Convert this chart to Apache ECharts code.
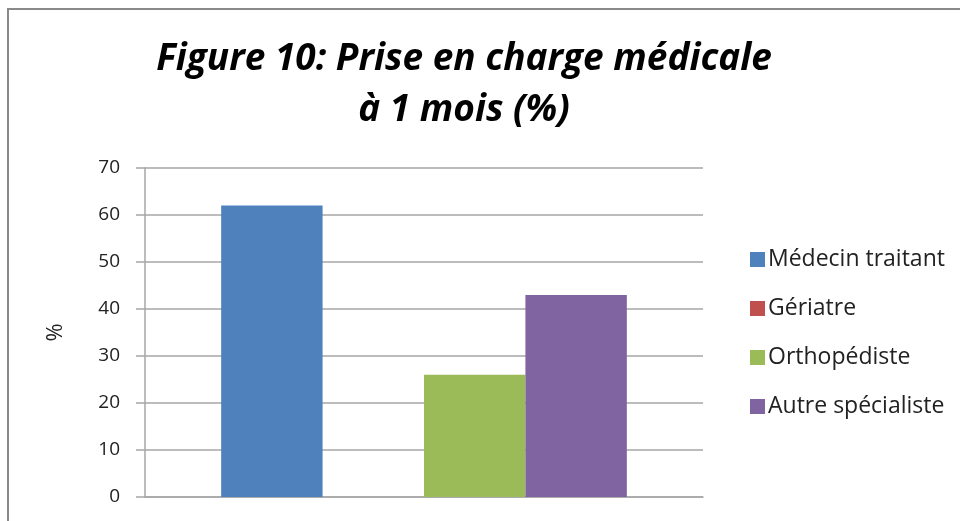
<!DOCTYPE html>
<html>
<head>
<meta charset="utf-8">
<script src="https://cdn.jsdelivr.net/npm/echarts@6/dist/echarts.min.js"></script>
<style>
  html, body { margin: 0; padding: 0; background: #fff; }
</style>
</head>
<body>
<div id="chart" style="width:960px;height:521px;"></div>
<script>
// données
const categories = ['']
const seriesNames = ['Médecin traitant', 'Gériatre', 'Orthopédiste', 'Autre spécialiste']
const seriesValues = [[62], [0], [26], [43]]
const seriesColors = ['#4F81BD', '#C0504D', '#9BBB59', '#8064A2']
const yTicks = { min: 0, max: 70, interval: 10 }

const font = '"Open Sans", Lato, sans-serif'

var myChart = echarts.init(document.getElementById('chart'), null, { renderer: 'canvas' })

var option = {
  animation: false,
  title: {
    text: 'Figure 10: Prise en charge médicale\nà 1 mois (%)',
    left: 459,
    textAlign: 'center',
    top: 29,
    textStyle: {
      fontFamily: font,
      fontSize: 37,
      fontWeight: 'bold',
      fontStyle: 'italic',
      color: '#000',
      lineHeight: 51
    }
  },
  // cadre du graphique
  graphic: [
    {
      type: 'polyline',
      shape: { points: [[8, 530], [8, 9], [970, 9]] },
      style: { stroke: '#8a8a8a', lineWidth: 2, fill: null }
    }
  ],
  legend: {
    orient: 'vertical',
    left: 745,
    top: 243,
    itemWidth: 15,
    itemHeight: 15,
    itemGap: 26,
    icon: 'rect',
    data: seriesNames,
    textStyle: {
      fontFamily: font,
      fontSize: 23,
      lineHeight: 20,
      color: '#222',
      padding: [0, 0, 0, -2]
    }
  },
  grid: {
    left: 145,
    right: 257,
    top: 168,
    bottom: 24
  },
  xAxis: {
    type: 'category',
    data: categories,
    axisLine: { show: true, lineStyle: { color: '#a6a6a6', width: 1.5 } },
    axisTick: { show: false },
    axisLabel: { show: false },
    splitLine: { show: false }
  },
  yAxis: {
    type: 'value',
    min: yTicks.min,
    max: yTicks.max,
    interval: yTicks.interval,
    name: '%',
    nameLocation: 'middle',
    nameGap: 78,
    nameRotate: 90,
    nameTextStyle: {
      fontFamily: font,
      fontSize: 22,
      color: '#222'
    },
    axisLine: { show: true, lineStyle: { color: '#a6a6a6', width: 1.5 } },
    axisTick: { show: true, length: 9, lineStyle: { color: '#a6a6a6', width: 1.5 } },
    axisLabel: {
      margin: 25,
      fontFamily: font,
      fontSize: 19,
      color: '#222'
    },
    splitLine: { show: true, lineStyle: { color: '#a6a6a6', width: 1.5 } }
  },
  series: seriesNames.map((name, i) => ({
    name: name,
    type: 'bar',
    data: seriesValues[i],
    barGap: '0%',
    barCategoryGap: '27.3%',
    itemStyle: {
      color: seriesColors[i]
    }
  }))
}

myChart.setOption(option, true)
</script>
</body>
</html>
